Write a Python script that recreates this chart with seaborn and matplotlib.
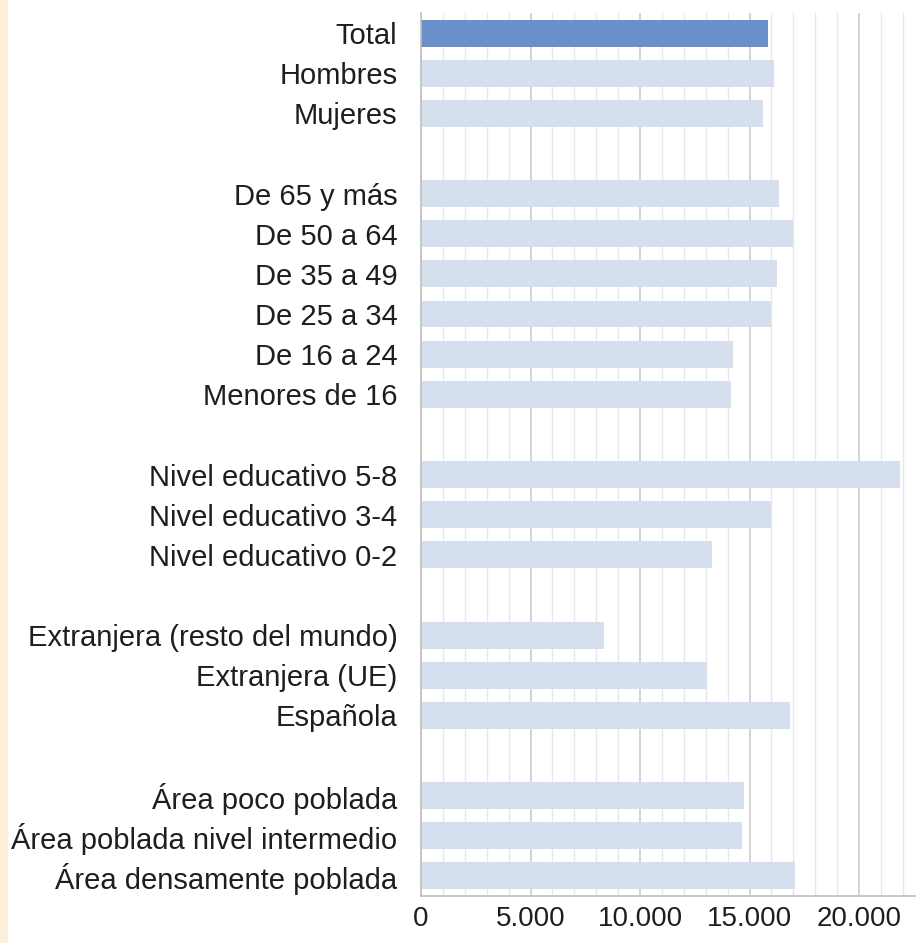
import matplotlib
matplotlib.use("Agg")
import matplotlib.pyplot as plt
from matplotlib.ticker import MultipleLocator, FuncFormatter
from matplotlib.patches import Rectangle
import pandas as pd
import seaborn as sns

# categories from top to bottom; blanks separate the groups
rows = ["Total", "Hombres", "Mujeres", " ",
        "De 65 y más", "De 50 a 64", "De 35 a 49", "De 25 a 34", "De 16 a 24", "Menores de 16", "  ",
        "Nivel educativo 5-8", "Nivel educativo 3-4", "Nivel educativo 0-2", "   ",
        "Extranjera (resto del mundo)", "Extranjera (UE)", "Española", "    ",
        "Área poco poblada", "Área poblada nivel intermedio", "Área densamente poblada"]

categories = ["Total", "Hombres", "Mujeres",
              "De 65 y más", "De 50 a 64", "De 35 a 49", "De 25 a 34", "De 16 a 24", "Menores de 16",
              "Nivel educativo 5-8", "Nivel educativo 3-4", "Nivel educativo 0-2",
              "Extranjera (resto del mundo)", "Extranjera (UE)", "Española",
              "Área poco poblada", "Área poblada nivel intermedio", "Área densamente poblada"]
values = [15860, 16120, 15600,
          16350, 16990, 16260, 15980, 14250, 14160,
          21870, 15970, 13270,
          8360, 13060, 16850,
          14750, 14640, 17080]

total_color = "#6B8FC9"
other_color = "#D5DFEE"

df = pd.DataFrame({"cat": categories, "val": values})
palette = {c: (total_color if c == "Total" else other_color) for c in categories}

sns.set_style("white")
plt.rcParams["font.family"] = ["Liberation Sans", "DejaVu Sans"]

fig = plt.figure(figsize=(9.16, 9.43), dpi=100)
ax = fig.add_axes([421 / 916, 47 / 943, 495 / 916, 883 / 943])

sns.barplot(data=df, x="val", y="cat", hue="cat", order=rows, palette=palette,
            legend=False, width=0.67, saturation=1, linewidth=0, ax=ax)

ax.set_xlim(0, 22600)
ax.set_ylim(len(rows) - 0.5, -0.5)
ax.xaxis.set_major_locator(MultipleLocator(5000))
ax.xaxis.set_minor_locator(MultipleLocator(1000))
ax.xaxis.set_major_formatter(FuncFormatter(lambda v, p: f"{int(v):,}".replace(",", ".")))
ax.grid(which="major", axis="x", color="#C8C8C8", linewidth=1.1)
ax.grid(which="minor", axis="x", color="#E8E8E8", linewidth=1.0)
ax.set_axisbelow(True)

ax.set_xlabel("")
ax.set_ylabel("")
ax.tick_params(axis="y", length=0, pad=17, labelsize=21, labelcolor="#1E1E1E")
ax.tick_params(axis="x", which="both", length=0, pad=7, labelsize=20, labelcolor="#1E1E1E")

for side in ["top", "right"]:
    ax.spines[side].set_visible(False)
for side in ["left", "bottom"]:
    ax.spines[side].set_color("#BFBFBF")
    ax.spines[side].set_linewidth(1.2)

# cream strip on the left border
fig.patches.append(Rectangle((0, 0), 7 / 916, 1, transform=fig.transFigure,
                             color="#FBEFD8", zorder=0))

fig.savefig("out.png", dpi=100)
